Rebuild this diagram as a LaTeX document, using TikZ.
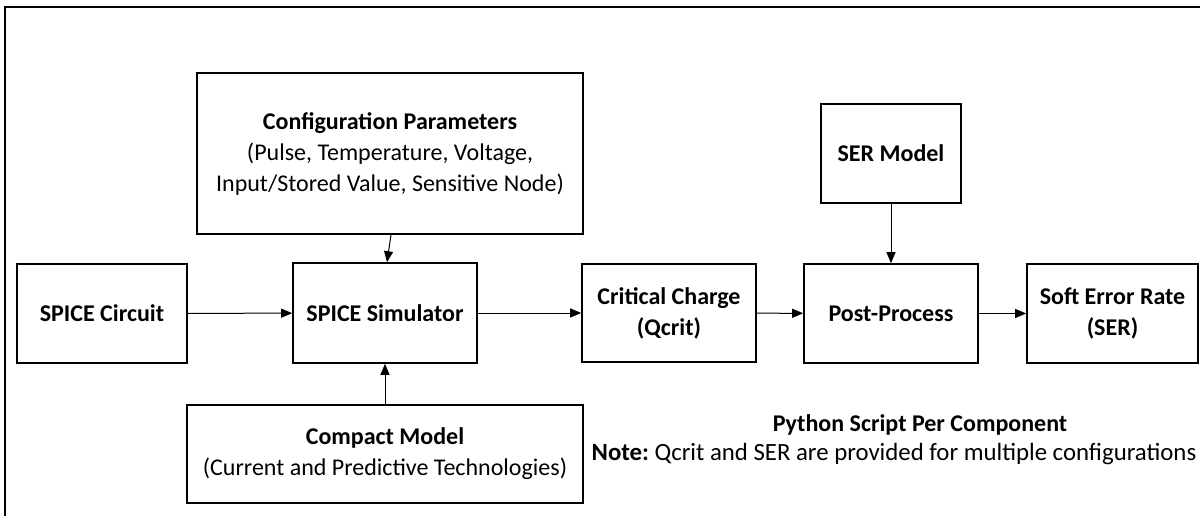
\documentclass[tikz,border=0pt]{standalone}
\usepackage{fontspec}
\setmainfont{Carlito}
\usetikzlibrary{arrows.meta}
\begin{document}
\begin{tikzpicture}[x=1pt,y=-1pt,
  box/.style={draw, line width=1.6pt, inner sep=0pt, align=center, font=\fontsize{24}{31}\selectfont},
  plain/.style={inner sep=0pt, font=\fontsize{24}{31}\selectfont},
  arr/.style={-{Triangle[length=11pt,width=9pt]}, line width=1pt}]
\useasboundingbox (0,0) rectangle (1200,516);
\draw[line width=1.6pt] (5,520) -- (5,7) -- (1205,7);
\node[box, minimum width=170pt, minimum height=99pt] (circ) at (102,313.5) {\textbf{SPICE Circuit}};
\node[box, minimum width=184pt, minimum height=100pt] (sim) at (385,313) {\textbf{SPICE Simulator}};
\node[box, minimum width=386pt, minimum height=161pt] (conf) at (390,153.5) {\textbf{Configuration Parameters}\\(Pulse, Temperature, Voltage,\\Input/Stored Value, Sensitive Node)};
\node[box, minimum width=396pt, minimum height=98pt] (comp) at (385,454) {\textbf{Compact Model}\\(Current and Predictive Technologies)};
\node[box, minimum width=174pt, minimum height=98pt] (crit) at (669,313) {\textbf{Critical Charge}\\\textbf{(Qcrit)}};
\node[box, minimum width=174pt, minimum height=99pt] (post) at (891,313.5) {\textbf{Post-Process}};
\node[box, minimum width=140pt, minimum height=99pt] (sermod) at (891,153.5) {\textbf{SER Model}};
\node[box, minimum width=171pt, minimum height=99pt] (ser) at (1112.5,313.5) {\textbf{Soft Error Rate}\\\textbf{(SER)}};
\node[plain] (py) at (920,425) {\textbf{Python Script Per Component}};
\node[plain, font=\fontsize{24.8}{31}\selectfont] (note) at (894,454) {\textbf{Note:}~Qcrit and SER are provided for multiple configurations};
\draw[arr] (circ) -- (sim);
\draw[arr] (sim) -- (crit);
\draw[arr] (crit) -- (post);
\draw[arr] (post) -- (ser);
\draw[arr] ([xshift=1pt]conf.south) -- ([xshift=2pt]sim.north);
\draw[arr] (comp.north) -- (sim.south);
\draw[arr] (sermod.south) -- (post.north);
\end{tikzpicture}
\end{document}
